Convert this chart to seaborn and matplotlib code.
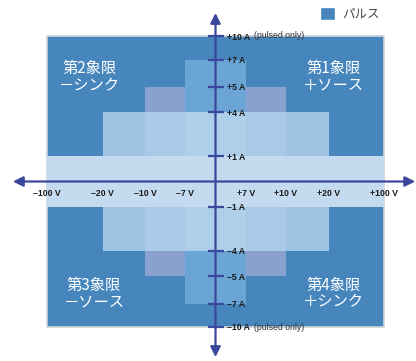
import numpy as np
import matplotlib
matplotlib.use("Agg")
import matplotlib.pyplot as plt
import matplotlib.transforms as mtransforms
from matplotlib.patches import Patch
import seaborn as sns

# operating regions, drawn back to front: half-width (V), half-height (A), colour
region_volts = [100, 10, 7, 20, 10, 7, 100]
region_amps = [10, 5, 7, 4, 4, 4, 1]
region_colors = ["#4786bd", "#8aa0cf", "#6aa5d6", "#a0c4e4", "#a8cae7", "#aecfe9", "#c4daee"]

volt_ticks = [-100, -20, -10, -7, 7, 10, 20, 100]
volt_labels = ["–100 V", "–20 V", "–10 V", "–7 V", "+7 V", "+10 V", "+20 V", "+100 V"]
amp_ticks = [10, 7, 5, 4, 1, -1, -4, -5, -7, -10]
amp_labels = ["+10 A", "+7 A", "+5 A", "+4 A", "+1 A", "–1 A", "–4 A", "–5 A", "–7 A", "–10 A"]
pulsed_amps = [10, -10]

quadrant_names = ["第1象限\n＋ソース", "第2象限\n－シンク", "第3象限\n－ソース", "第4象限\n＋シンク"]
legend_label = "パルス"

AXIS = "#3a479c"

sns.set_theme(style="white")
plt.rcParams["font.family"] = ["Liberation Sans", "Noto Sans CJK JP"]


def piecewise(knots, px):
    """Non-linear axis: symmetric piecewise-linear mapping value -> pixels."""
    def fwd(v):
        v = np.asarray(v, dtype=float)
        return np.sign(v) * np.interp(np.abs(v), knots, px)

    def inv(p):
        p = np.asarray(p, dtype=float)
        return np.sign(p) * np.interp(np.abs(p), px, knots)

    return fwd, inv


vfwd, vinv = piecewise([0, 7, 10, 20, 100, 1000], [0, 30.5, 70.5, 113, 168.5, 268.5])
afwd, ainv = piecewise([0, 1, 4, 5, 7, 10, 100], [0, 25.5, 69.5, 94.5, 122, 145.5, 245.5])

fig = plt.figure(figsize=(4.16, 3.61), dpi=100)
ax = fig.add_axes([0, 0, 1, 1])
ax.set_xscale("function", functions=(vfwd, vinv))
ax.set_yscale("function", functions=(afwd, ainv))
ax.set_xlim(float(vinv(-215.5)), float(vinv(200.5)))
ax.set_ylim(float(ainv(-179.5)), float(ainv(181.5)))
ax.patch.set_alpha(0)
ax.set_axisbelow(False)

for i, (v, a, c) in enumerate(zip(region_volts, region_amps, region_colors)):
    edge = "#cfd4da" if i == 0 else "none"
    ax.fill_between([-v, v], -a, a, facecolor=c, edgecolor=edge, lw=1.2 if i == 0 else 0)

# axes through the origin
for s in ["top", "left"]:
    ax.spines[s].set_visible(False)
ax.spines["bottom"].set_position(("data", 0))
ax.spines["right"].set_position(("data", 0))
ax.spines["bottom"].set_visible(False)
ax.spines["right"].set_visible(False)
ax.yaxis.tick_right()

ax.set_xticks(volt_ticks, volt_labels)
ax.set_yticks(amp_ticks, amp_labels)
ax.minorticks_off()
ax.tick_params(axis="x", direction="inout", length=9.5, width=1.6, color=AXIS,
               pad=1, labelsize=6.3, labelcolor="#1a1a1a")
ax.tick_params(axis="y", direction="inout", length=11, width=1.6, color=AXIS,
               pad=3, labelsize=6.3, labelcolor="#1a1a1a")
for lab in ax.get_xticklabels() + ax.get_yticklabels():
    lab.set_fontweight("bold")

hx = mtransforms.blended_transform_factory(ax.transAxes, ax.transData)
vy = mtransforms.blended_transform_factory(ax.transData, ax.transAxes)
arrow = dict(arrowstyle="<|-|>,head_length=0.5,head_width=0.25", color=AXIS, lw=1.6,
             shrinkA=0, shrinkB=0, mutation_scale=12)
ax.annotate("", xy=(0.998, 0), xytext=(0.031, 0), xycoords=hx, textcoords=hx, arrowprops=arrow)
ax.annotate("", xy=(0, 0.964), xytext=(0, 0.011), xycoords=vy, textcoords=vy, arrowprops=arrow)

for a in pulsed_amps:
    ax.annotate("(pulsed only)", xy=(0, a), xytext=(27.8, 0), textcoords="offset points",
                va="center", ha="left", fontsize=6.3, color="#333333")

quad_pos = [(0.802, 0.787), (0.216, 0.787), (0.226, 0.187), (0.802, 0.187)]
for name, (qx, qy) in zip(quadrant_names, quad_pos):
    ax.text(qx, qy, name, transform=ax.transAxes, ha="center", va="center",
            fontsize=11, color="white", linespacing=1.0,
            family=["Noto Sans CJK JP", "DejaVu Sans"])

ax.legend(handles=[Patch(facecolor=region_colors[0], label=legend_label)],
          loc="upper right", bbox_to_anchor=(0.94, 1.012), frameon=False,
          prop={"family": "Noto Sans CJK JP", "size": 9},
          labelcolor="#444444", handlelength=1.25, handleheight=1.25, handletextpad=0.55)

fig.savefig("out.png", dpi=100)
plt.close(fig)
